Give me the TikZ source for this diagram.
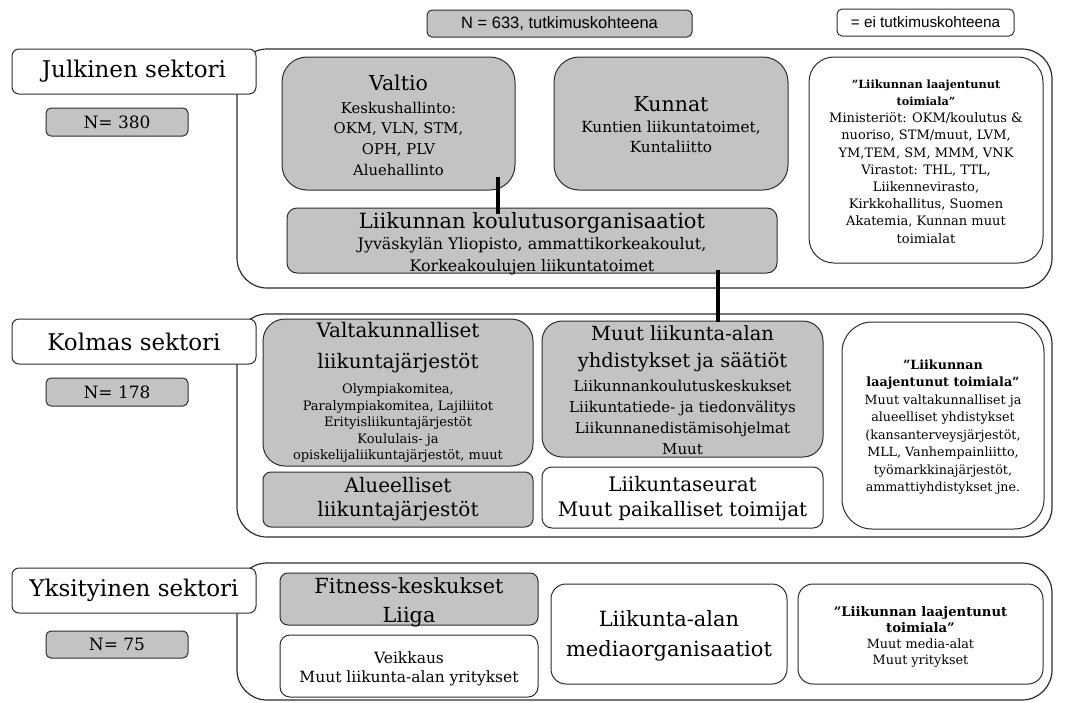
\documentclass[tikz,border=0pt]{standalone}
\usepackage{fontspec}
\setmainfont{DejaVu Serif}
\newfontfamily\legendfont{Liberation Sans}
\newcommand\fsz[2]{\fontsize{#1}{#2}\selectfont}
\definecolor{boxgray}{RGB}{196,195,196}
\definecolor{edge}{RGB}{45,45,45}

\begin{document}
% line distances in the boxes always follow the baselineskip
\lineskiplimit=-100pt
\begin{tikzpicture}[x=1pt,y=-1pt,
  sector/.style={draw=edge, line width=1.2pt, rounded corners=30pt, fill=white},
  seclabel/.style={draw=edge, fill=white, line width=1pt, rounded corners=7pt,
    font=\fsz{23}{27}},
  count/.style={draw=edge, fill=boxgray, line width=1pt, rounded corners=5pt,
    font=\fsz{17}{20}},
  gbox/.style={draw=edge, fill=boxgray, line width=1pt, inner sep=0pt},
  wbox/.style={draw=edge, fill=white, line width=1pt, inner sep=0pt},
  txt/.style={align=center, inner sep=0pt},
  link/.style={line width=4pt, black}]
\useasboundingbox (0,0) rectangle (1070,702);

% legend
\node[count, minimum width=265pt, minimum height=27pt, font=\legendfont\fsz{16.5}{19}]
  (legA) at (559.5,23.5) {N = 633, tutkimuskohteena};
\node[count, fill=white, minimum width=177pt, minimum height=27pt, font=\legendfont\fsz{15.3}{18}]
  (legB) at (925.5,22.5) {= ei tutkimuskohteena};

% sector frames
\node[sector, minimum width=815pt, minimum height=239pt] (pub) at (644.5,168.5) {};
\node[sector, minimum width=815pt, minimum height=223pt] (third) at (644.5,425.5) {};
\node[sector, minimum width=815pt, minimum height=137pt] (priv) at (644.5,631.5) {};

% sector labels and counts
\node[seclabel, minimum width=244pt, minimum height=45pt] (pubL) at (134,71.5) {Julkinen sektori};
\node[seclabel, minimum width=244pt, minimum height=45pt] (thirdL) at (134,341.5) {Kolmas sektori};
\node[seclabel, minimum width=244pt, minimum height=45pt] (privL) at (134,590.5) {Yksityinen sektori};
\node[count, minimum width=142pt, minimum height=28pt] (pubN) at (117,122) {N= 380};
\node[count, minimum width=142pt, minimum height=28pt] (thirdN) at (117,392) {N= 178};
\node[count, minimum width=142pt, minimum height=27pt] (privN) at (117,644.5) {N= 75};

% public sector
\node[gbox, rounded corners=25pt, minimum width=233pt, minimum height=133pt] (valtio) at (398.5,123.5) {};
\node[txt, font=\fsz{14.8}{20.6}] (valtioT) at ([yshift=-1.5pt]valtio)
  {{\fsz{20.5}{24}Valtio}\\[2.4pt]Keskushallinto:\\OKM, VLN, STM,\\OPH, PLV\\Aluehallinto};
\node[gbox, rounded corners=25pt, minimum width=234pt, minimum height=133pt] (kunnat) at (671,123.5) {};
\node[txt, font=\fsz{15.3}{20}] (kunnatT) at ([yshift=-1.5pt]kunnat)
  {{\fsz{20.5}{24}Kunnat}\\[1pt]Kuntien liikuntatoimet,\\Kuntaliitto};
\node[wbox, rounded corners=25pt, minimum width=234pt, minimum height=206pt] (laajP) at (926,160) {};
\node[txt, font=\fsz{13}{17.2}] (laajPT) at ([yshift=-1.5pt]laajP)
  {{\bfseries\fsz{11.3}{17}”Liikunnan laajentunut}\\{\bfseries\fsz{11.3}{17}toimiala”}\\Ministeriöt: OKM/koulutus \&\\nuoriso, STM/muut, LVM,\\YM,TEM, SM, MMM, VNK\\Virastot: THL, TTL,\\Liikennevirasto,\\Kirkkohallitus, Suomen\\Akatemia, Kunnan muut\\toimialat};
\node[gbox, rounded corners=10pt, minimum width=490pt, minimum height=65pt] (koul) at (532,240.5) {};
\node[txt, font=\fsz{15.9}{22}] (koulT) at ([yshift=-3pt]koul)
  {{\fsz{21}{24}Liikunnan koulutusorganisaatiot}\\[-1pt]Jyväskylän Yliopisto, ammattikorkeakoulut,\\Korkeakoulujen liikuntatoimet};

% third sector
\node[gbox, rounded corners=22pt, minimum width=270pt, minimum height=147pt] (valtak) at (398,392.5) {};
\node[txt, font=\fsz{13}{16.5}] (valtakT) at (valtak)
  {{\fsz{20}{24}Valtakunnalliset}\\[14.5pt]{\fsz{20}{24}liikuntajärjestöt}\\[8.5pt]Olympiakomitea,\\Paralympiakomitea, Lajiliitot\\Erityisliikuntajärjestöt\\Koululais- ja\\opiskelijaliikuntajärjestöt, muut};
\node[gbox, rounded corners=8pt, minimum width=270pt, minimum height=55pt] (alue) at (398,499.5) {};
\node[txt, font=\fsz{20}{23.5}] (alueT) at ([yshift=0.5pt]alue) {Alueelliset\\liikuntajärjestöt};
\node[gbox, rounded corners=20pt, minimum width=281pt, minimum height=136pt] (muut) at (682.5,389) {};
\node[txt, font=\fsz{15}{21}] (muutT) at ([yshift=-1pt]muut)
  {{\fsz{19.5}{24}Muut liikunta-alan}\\[6pt]{\fsz{19.5}{24}yhdistykset ja säätiöt}\\[3pt]Liikunnankoulutuskeskukset\\Liikuntatiede- ja tiedonvälitys\\Liikunnanedistämisohjelmat\\Muut};
\node[wbox, rounded corners=10pt, minimum width=281pt, minimum height=61pt] (seurat) at (682.5,497.5) {};
\node[txt, font=\fsz{20}{25}] (seuratT) at ([yshift=-1.5pt]seurat) {Liikuntaseurat\\Muut paikalliset toimijat};
\node[wbox, rounded corners=30pt, minimum width=202pt, minimum height=207pt] (laajK) at (943,425.5) {};
\node[txt, font=\fsz{12.7}{17.5}] (laajKT) at ([yshift=-1.5pt]laajK)
  {\textbf{”Liikunnan}\\\textbf{laajentunut toimiala”}\\Muut valtakunnalliset ja\\alueelliset yhdistykset\\(kansanterveysjärjestöt,\\MLL, Vanhempainliitto,\\työmarkkinajärjestöt,\\ammattiyhdistykset jne.};

% private sector
\node[gbox, rounded corners=8pt, minimum width=258pt, minimum height=52pt] (fit) at (409,599) {};
\node[txt, font=\fsz{20.8}{29}] (fitT) at ([yshift=-3pt]fit) {Fitness-keskukset\\Liiga};
\node[wbox, rounded corners=10pt, minimum width=258pt, minimum height=62pt] (veik) at (409,666) {};
\node[txt, font=\fsz{15.5}{19.3}] (veikT) at ([yshift=-2.5pt]veik) {Veikkaus\\Muut liikunta-alan yritykset};
\node[wbox, rounded corners=15pt, minimum width=236pt, minimum height=100pt] (media) at (669,634) {};
\node[txt, font=\fsz{21}{30}] (mediaT) at ([yshift=-2pt]media) {Liikunta-alan\\mediaorganisaatiot};
\node[wbox, rounded corners=15pt, minimum width=245pt, minimum height=100pt] (laajY) at (920.5,634) {};
\node[txt, font=\fsz{12.8}{16}] (laajYT) at ([yshift=-3pt]laajY)
  {{\bfseries\fsz{13.2}{16}”Liikunnan laajentunut}\\{\bfseries\fsz{13.2}{16}toimiala”}\\Muut media-alat\\Muut yritykset};

% links between organisations
\draw[link] ([shift={(-18,-14)}]valtio.south east) -- ++(0,37);
\draw[link] ([shift={(-60,-4)}]koul.south east) -- ++(0,52);
\end{tikzpicture}
\end{document}
